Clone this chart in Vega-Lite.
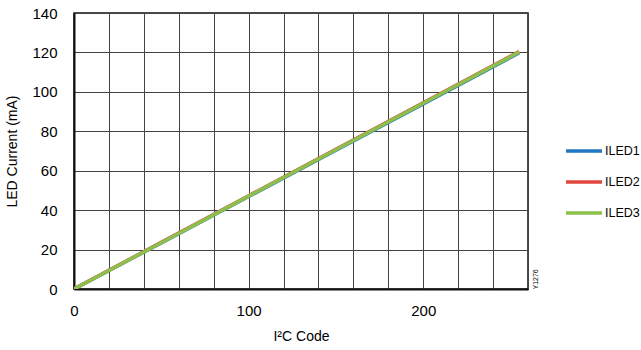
{
  "$schema": "https://vega.github.io/schema/vega-lite/v6.json",
  "width": 454,
  "height": 276,
  "autosize": {"type": "none"},
  "padding": {"left": 74, "top": 13, "right": 113, "bottom": 61},
  "background": "white",
  "config": {
    "font": "Liberation Sans",
    "view": {"stroke": "#111", "strokeWidth": 1.5},
    "axis": {"labelColor": "#000", "titleColor": "#000", "titleFontWeight": "normal", "labelFlush": false}
  },
  "data": {
    "values": [
      {"code": 0, "current": 0, "led": "ILED1"},
      {"code": 50, "current": 23.4, "led": "ILED1"},
      {"code": 100, "current": 46.9, "led": "ILED1"},
      {"code": 150, "current": 70.4, "led": "ILED1"},
      {"code": 200, "current": 93.9, "led": "ILED1"},
      {"code": 255, "current": 119.8, "led": "ILED1"},
      {"code": 0, "current": 0, "led": "ILED2"},
      {"code": 50, "current": 23.7, "led": "ILED2"},
      {"code": 100, "current": 47.3, "led": "ILED2"},
      {"code": 150, "current": 70.9, "led": "ILED2"},
      {"code": 200, "current": 94.5, "led": "ILED2"},
      {"code": 255, "current": 120.5, "led": "ILED2"},
      {"code": 0, "current": 0, "led": "ILED3"},
      {"code": 50, "current": 23.5, "led": "ILED3"},
      {"code": 100, "current": 47.1, "led": "ILED3"},
      {"code": 150, "current": 70.6, "led": "ILED3"},
      {"code": 200, "current": 94.2, "led": "ILED3"},
      {"code": 255, "current": 120.2, "led": "ILED3"}
    ]
  },
  "encoding": {
    "x": {
      "field": "code", "type": "quantitative",
      "scale": {"domain": [0, 260], "nice": false, "zero": true},
      "axis": {
        "values": [0, 20, 40, 60, 80, 100, 120, 140, 160, 180, 200, 220, 240, 260],
        "labelExpr": "datum.value % 100 == 0 ? datum.label : ''",
        "labelOverlap": false,
        "ticks": false, "labelPadding": 14, "labelFontSize": 15,
        "grid": true, "gridColor": "#444", "gridWidth": 1, "gridOpacity": 1,
        "domain": true, "domainColor": "#111", "domainWidth": 2,
        "title": "I²C Code", "titleFontSize": 14, "titlePadding": 11
      }
    }
  },
  "layer": [
    {
      "mark": {"type": "line", "strokeWidth": 3.5, "clip": true},
      "encoding": {
        "y": {
          "field": "current", "type": "quantitative",
          "scale": {"domain": [0, 140], "nice": false},
          "axis": {
            "values": [0, 20, 40, 60, 80, 100, 120, 140],
            "labelOverlap": false,
            "ticks": false, "labelPadding": 17, "labelFontSize": 15,
            "grid": true, "gridColor": "#444", "gridWidth": 1, "gridOpacity": 1,
            "domain": true, "domainColor": "#111", "domainWidth": 2,
            "title": "LED Current (mA)", "titleFontSize": 14, "titlePadding": 12
          }
        },
        "color": {
          "field": "led", "type": "nominal",
          "scale": {"domain": ["ILED1", "ILED2", "ILED3"], "range": ["#1f78c1", "#e2473f", "#8dc04b"]},
          "legend": {
            "title": null, "orient": "none", "legendX": 490, "legendY": 118,
            "symbolType": "stroke", "symbolSize": 1296, "symbolStrokeWidth": 3.5,
            "labelFontSize": 12.5, "labelOffset": 1, "rowPadding": 4, "padding": 0,
            "labelLimit": 200
          }
        }
      }
    },
    {
      "mark": {"type": "line", "opacity": 0},
      "encoding": {
        "y": {
          "field": "current", "type": "quantitative",
          "axis": {
            "orient": "right", "labels": false, "ticks": false, "domain": false, "grid": false,
            "title": "Y1276", "titleFontSize": 7, "titleAngle": 270, "titleAnchor": "start",
            "titlePadding": 10
          }
        }
      }
    }
  ],
  "resolve": {"axis": {"y": "independent"}}
}
